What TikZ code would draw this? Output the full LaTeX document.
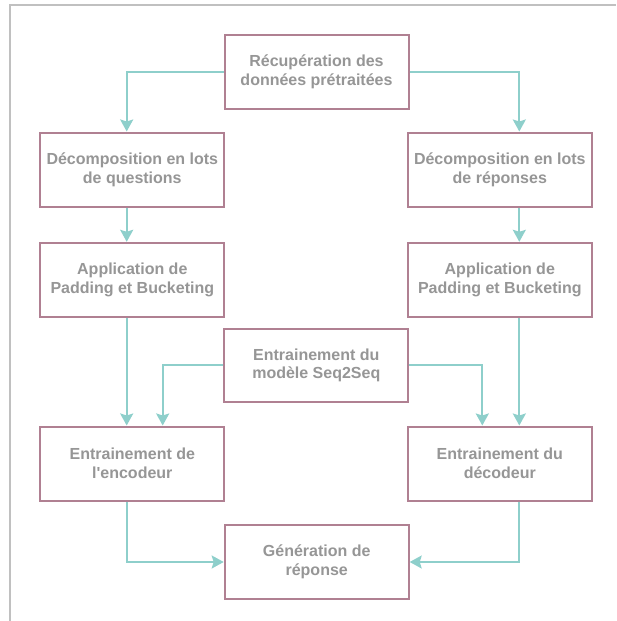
\documentclass[tikz,border=0pt]{standalone}
\usepackage{fontspec}
\setmainfont{Liberation Sans}
\usetikzlibrary{arrows.meta}
\definecolor{boxcol}{RGB}{176,128,146}
\definecolor{arrcol}{RGB}{142,207,203}
\definecolor{txtcol}{RGB}{150,150,150}
\definecolor{framecol}{RGB}{192,192,192}
\tikzset{
  stepbox/.style={draw=boxcol, line width=2pt, fill=white, minimum width=184pt, minimum height=74pt,
    align=center, inner sep=0pt, text=txtcol, font=\fontsize{16}{18.7}\selectfont\bfseries},
  arr/.style={draw=arrcol, line width=2pt, -{Stealth[length=12pt,width=13pt,inset=2pt]}}
}
\begin{document}
\begin{tikzpicture}[x=1pt,y=-1pt]
\useasboundingbox (0,0) rectangle (616,621);
\draw[framecol, line width=2pt] (9.5,621) -- (9.5,5) -- (616,5);

\node[stepbox] (top) at (316.5,71.5) {Récupération des\\données prétraitées};
\node[stepbox] (dq) at (132.3,169.5) {Décomposition en lots\\de questions};
\node[stepbox] (dr) at (499.8,169.5) {Décomposition en lots\\de réponses};
\node[stepbox] (pl) at (132.3,279.8) {Application de\\Padding et Bucketing};
\node[stepbox] (pr) at (499.8,279.8) {Application de\\Padding et Bucketing};
\node[stepbox, minimum height=73pt] (mid) at (316.3,365.4) {Entrainement du\\modèle Seq2Seq};
\node[stepbox] (enc) at (132.3,463.5) {Entrainement de\\l\textquotesingle encodeur};
\node[stepbox] (dec) at (499.8,463.5) {Entrainement du\\décodeur};
\node[stepbox] (gen) at (316.7,562) {Génération de\\réponse};

\coordinate (xl) at (126.7,0);
\coordinate (xr) at (519.3,0);
\coordinate (xml) at (162.7,0);
\coordinate (xmr) at (482.3,0);

\draw[arr] (top.west) -| (xl |- dq.north);
\draw[arr] (top.east) -| (xr |- dr.north);
\draw[arr] (xl |- dq.south) -- (xl |- pl.north);
\draw[arr] (xr |- dr.south) -- (xr |- pr.north);
\draw[arr] (xl |- pl.south) -- (xl |- enc.north);
\draw[arr] (xr |- pr.south) -- (xr |- dec.north);
\draw[arr] (mid.west) -| (xml |- enc.north);
\draw[arr] (mid.east) -| (xmr |- dec.north);
\draw[arr] (xl |- enc.south) |- (gen.west);
\draw[arr] (xr |- dec.south) |- (gen.east);
\end{tikzpicture}
\end{document}
